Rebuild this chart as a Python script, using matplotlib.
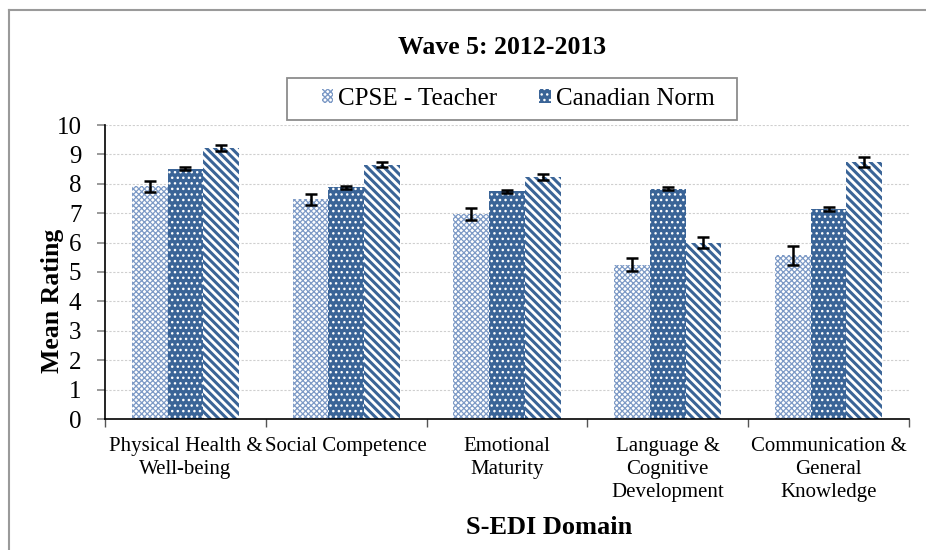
import matplotlib
matplotlib.use("Agg")
import matplotlib.pyplot as plt
from matplotlib.patches import Rectangle, Patch
from matplotlib.lines import Line2D
import numpy as np

# chart data
domains = ["Physical Health &\nWell-being", "Social Competence", "Emotional\nMaturity",
           "Language &\nCognitive\nDevelopment", "Communication &\nGeneral\nKnowledge"]
teacher = [7.91, 7.47, 6.98, 5.25, 5.57]
teacher_err = [0.18, 0.19, 0.20, 0.23, 0.32]
norm = [8.51, 7.88, 7.75, 7.83, 7.14]
norm_err = [0.05, 0.06, 0.05, 0.05, 0.08]
third = [9.23, 8.65, 8.24, 6.00, 8.75]
third_err = [0.10, 0.09, 0.10, 0.20, 0.17]
yticks = list(range(0, 11))

BLUE = "#3A6497"
LIGHT = "#7D9AC6"

plt.rcParams["font.family"] = ["Liberation Serif", "DejaVu Serif"]

W, H = 926, 550
fig = plt.figure(figsize=(W / 100, H / 100), dpi=100)
ax = fig.add_axes([105 / W, 1 - 419 / H, 804 / W, 294 / H])

x = np.arange(len(domains))
bw = 0.222


def hatched_bars(xpos, vals, errs, face, edge, hatch, hlw):
    with plt.rc_context({"hatch.linewidth": hlw}):
        bars = ax.bar(xpos, vals, bw, color=face, edgecolor=edge, linewidth=0,
                      hatch=hatch, zorder=2)
    for b in bars:
        if hasattr(b, "set_hatch_linewidth"):
            b.set_hatch_linewidth(hlw)
    ax.errorbar(xpos, vals, yerr=errs, fmt="none", ecolor="black",
                elinewidth=1.8, capsize=4, capthick=1.8, zorder=3)
    return bars


hatched_bars(x - bw, teacher, teacher_err, "white", LIGHT, "xxxxxx", 0.9)
hatched_bars(x, norm, norm_err, BLUE, "white", "...", 1.0)
hatched_bars(x + bw, third, third_err, "white", BLUE, "\\\\\\\\", 2.2)

ax.set_xlim(-0.5, len(domains) - 0.5)
ax.set_ylim(0, 10)
ax.set_yticks(yticks)
ax.tick_params(axis="y", labelsize=18, length=6, width=1.2, color="#888888", pad=11)
ax.set_xticks(np.arange(len(domains) + 1) - 0.5)
ax.set_xticklabels([])
ax.set_xticks(x, minor=True)
ax.set_xticklabels(domains, minor=True, fontsize=15, va="top", linespacing=1.3)
ax.tick_params(axis="x", which="minor", length=0, pad=13)
ax.tick_params(axis="x", which="major", length=6, width=1.0, color="#555555")

for side in ["top", "right"]:
    ax.spines[side].set_visible(False)
ax.spines["left"].set_linewidth(1.2)
ax.spines["bottom"].set_linewidth(1.2)
ax.yaxis.grid(True, color="#CFCFCF", linestyle=(0, (2, 1.5)), linewidth=0.8, zorder=0)
ax.set_axisbelow(True)

fig.text(502 / W, 1 - 48 / H, "Wave 5: 2012-2013", fontsize=18.5, fontweight="bold",
         ha="center", va="center")
fig.text(53 / W, 1 - 301 / H, "Mean Rating", fontsize=18.5, fontweight="bold",
         rotation=90, ha="center", va="center")
fig.text(549 / W, 1 - 527 / H, "S-EDI Domain", fontsize=19, fontweight="bold",
         ha="center", va="center")

# outer chart frame (cropped at right/bottom)
fig.add_artist(Line2D([9 / W, 9 / W], [1 - 10 / H, 0], transform=fig.transFigure,
                      color="#9A9A9A", linewidth=1.5))
fig.add_artist(Line2D([9 / W, 1], [1 - 10 / H, 1 - 10 / H], transform=fig.transFigure,
                      color="#9A9A9A", linewidth=1.5))

# legend box
fig.add_artist(Rectangle((287 / W, 1 - 120 / H), 450 / W, 42 / H, transform=fig.transFigure,
                         facecolor="white", edgecolor="#8C8C8C", linewidth=1.3, zorder=5))
with plt.rc_context({"hatch.linewidth": 0.9}):
    h1 = Patch(facecolor="white", edgecolor=LIGHT, linewidth=0, hatch="xxxxxx")
h2 = Patch(facecolor=BLUE, edgecolor="white", linewidth=0, hatch="...")
leg = fig.legend([h1, h2], ["CPSE - Teacher", "Canadian Norm"], ncol=2, frameon=False,
                 loc="center", bbox_to_anchor=(518 / W, 1 - 99 / H), fontsize=18,
                 handlelength=0.45, handleheight=0.45, handletextpad=0.2,
                 columnspacing=1.7)
leg.set_zorder(6)

fig.savefig("out.png", dpi=100)
